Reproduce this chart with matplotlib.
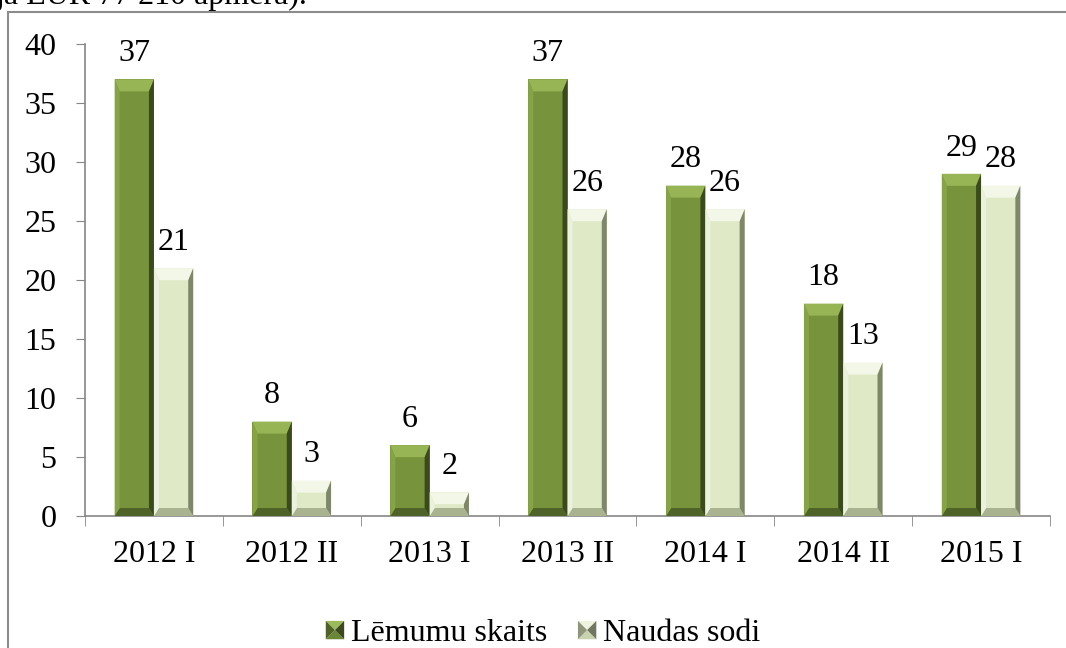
import matplotlib
matplotlib.use("Agg")
import matplotlib.pyplot as plt
from matplotlib.patches import Polygon, Rectangle
from matplotlib.legend_handler import HandlerBase
import numpy as np

plt.rcParams['font.family'] = ['Liberation Serif', 'DejaVu Serif']

categories = ["2012 I", "2012 II", "2013 I", "2013 II", "2014 I", "2014 II", "2015 I"]
lemumi = [37, 8, 6, 37, 28, 18, 29]
sodi = [21, 3, 2, 26, 26, 13, 28]
series_names = ["Lēmumu skaits", "Naudas sodi"]

W, H = 1066, 648
FS = 23
fig = plt.figure(figsize=(W / 100, H / 100), dpi=100)
ax = fig.add_axes([85 / W, (H - 516) / H, (1050 - 85) / W, (516 - 44) / H])

x = np.arange(len(categories))
bw = 0.285
# face, top, left, right, bottom
styles = [
    ("#77933c", "#98b555", "#86a447", "#3a4a1c", "#4f6228"),
    ("#dfe9c6", "#f3f7e8", "#eaf1dc", "#7f876a", "#aab38f"),
]

ax.set_xlim(-0.5, len(categories) - 0.5)
ax.set_ylim(0, 40)

# bevel size in data units
ax_w_px = 1050 - 85
ax_h_px = 516 - 44
dx = 5 * (len(categories)) / ax_w_px
dy_top = 12 * 40 / ax_h_px
dy_bot = 8 * 40 / ax_h_px


def bevel_bars(xpos, vals, st):
    bars = ax.bar(xpos, vals, bw, color=st[0], zorder=2)
    for b in bars:
        x0, x1 = b.get_x(), b.get_x() + b.get_width()
        y0, y1 = 0, b.get_height()
        ht = min(dy_top, (y1 - y0) / 2)
        hb = min(dy_bot, (y1 - y0) / 2)
        polys = [
            ([(x0, y1), (x1, y1), (x1 - dx, y1 - ht), (x0 + dx, y1 - ht)], st[1]),
            ([(x0, y0), (x1, y0), (x1 - dx, y0 + hb), (x0 + dx, y0 + hb)], st[4]),
            ([(x0, y0), (x0 + dx, y0 + hb), (x0 + dx, y1 - ht), (x0, y1)], st[2]),
            ([(x1, y0), (x1 - dx, y0 + hb), (x1 - dx, y1 - ht), (x1, y1)], st[3]),
        ]
        for pts, c in polys:
            ax.add_patch(Polygon(pts, closed=True, facecolor=c, edgecolor='none', zorder=3))
    for xi, v in zip(xpos, vals):
        ax.annotate(str(v), (xi, v), xytext=(0, 8), textcoords='offset points',
                    ha='center', va='bottom', fontsize=FS)
    return bars


bevel_bars(x - bw / 2, lemumi, styles[0])
bevel_bars(x + bw / 2, sodi, styles[1])

ax.set_yticks(np.arange(0, 41, 5))
ax.set_xticks(x)
ax.set_xticklabels(categories)
ax.set_xticks(np.arange(-0.5, len(categories)), minor=True)
ax.tick_params(axis='x', which='major', length=0, pad=17, labelsize=FS)
ax.tick_params(axis='x', which='minor', length=7, color='#868686')
ax.tick_params(axis='y', length=6.5, color='#868686', labelsize=FS, pad=14)
for s in ['top', 'right']:
    ax.spines[s].set_visible(False)
for s in ['left', 'bottom']:
    ax.spines[s].set_color('#868686')
    ax.spines[s].set_linewidth(1.2)


class BevelHandler(HandlerBase):
    def __init__(self, st):
        super().__init__()
        self.st = st

    def create_artists(self, legend, orig_handle, xdescent, ydescent, width, height, fontsize, trans):
        s = min(width, height) * 1.15
        x0 = -xdescent + (width - s) / 2
        y0 = -ydescent + (height - s) / 2
        cx, cy = x0 + s / 2, y0 + s / 2
        c = [(x0, y0), (x0 + s, y0), (x0 + s, y0 + s), (x0, y0 + s)]
        tris = [
            ([c[3], c[2], (cx, cy)], self.st[1]),
            ([c[0], c[1], (cx, cy)], self.st[0]),
            ([c[0], c[3], (cx, cy)], self.st[4]),
            ([c[1], c[2], (cx, cy)], self.st[3]),
        ]
        return [Polygon(p, closed=True, facecolor=col, edgecolor='none', transform=trans)
                for p, col in tris]


h1 = Rectangle((0, 0), 1, 1)
h2 = Rectangle((0, 0), 1, 1, facecolor='none')
legend_styles = [
    ("#6b8636", "#9cba5a", "#86a447", "#3a4a1c", "#4f6228"),
    ("#c9d2ae", "#eef3df", "#dde6c8", "#6f7760", "#8d957a"),
]
fig.legend([h1, h2], series_names, loc='lower center', bbox_to_anchor=(0.51, -0.045),
           ncol=2, frameon=False, fontsize=FS, handlelength=0.5, handleheight=0.5,
           handletextpad=0.25, columnspacing=1.0,
           handler_map={h1: BevelHandler(legend_styles[0]), h2: BevelHandler(legend_styles[1])})

fig.add_artist(Rectangle((8 / W, -0.1), 1.2, (H - 12) / H + 0.1, transform=fig.transFigure,
                         fill=False, edgecolor='#8c8c8c', linewidth=1.5))
fig.text(-0.004, 1 - 4 / H, "ja EUR 77 210 apmēra).", fontsize=FS, ha='left', va='baseline')

fig.savefig("out.png", dpi=100)
